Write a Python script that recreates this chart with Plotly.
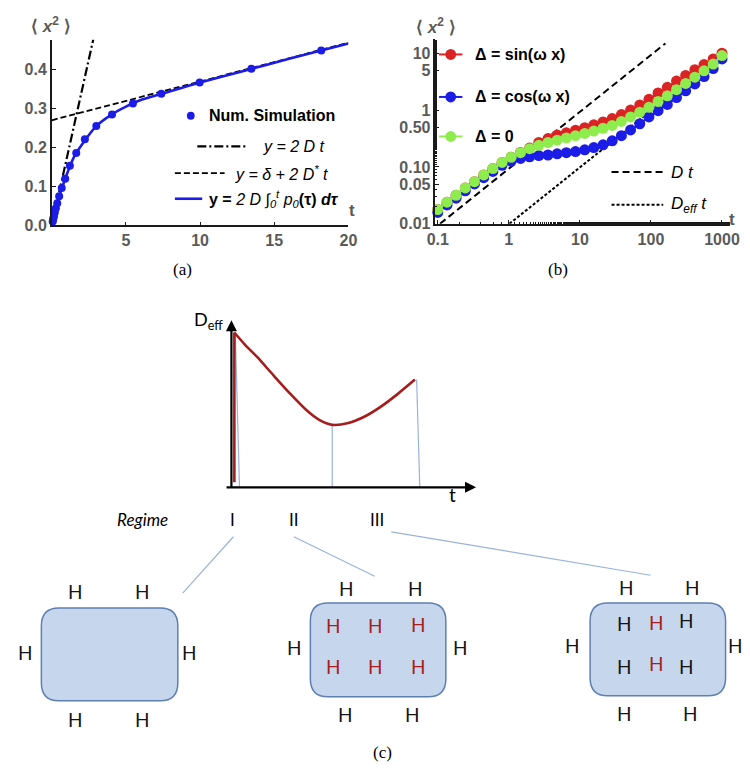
import plotly.graph_objects as go

W, H = 750, 768
def X(px): return px / W
def Y(py): return 1 - py / H

# ---------------- Panel (a) data ----------------
sim_t = [0.061, 0.082, 0.111, 0.150, 0.202, 0.273, 0.368, 0.497, 0.670, 0.905,
         1.22, 1.65, 2.23, 3.00, 4.06, 5.47, 7.39, 9.97, 13.46, 18.17]
sim_y = [0.010, 0.014, 0.019, 0.025, 0.033, 0.044, 0.057, 0.075, 0.096, 0.120,
         0.153, 0.186, 0.221, 0.255, 0.285, 0.313, 0.338, 0.367, 0.402, 0.449]
theory_t = [0, 0.05, 0.15, 0.3, 0.5, 0.75, 1.0, 1.5, 2.0, 3.0, 4.0, 5.0, 6.0, 7.5, 10, 13, 16, 20]
theory_y = [0, 0.009, 0.025, 0.046, 0.075, 0.103, 0.130, 0.176, 0.206, 0.255, 0.284, 0.305,
            0.322, 0.339, 0.367, 0.397, 0.428, 0.467]
short_t = [0, 2.8]          # y = 2 D t
short_y = [0, 0.478]
long_t = [0, 20]            # y = delta + 2 D* t
long_y = [0.270, 0.469]
a_xticks = [5, 10, 15, 20]
a_yticks = [0.0, 0.1, 0.2, 0.3, 0.4]

# ---------------- Panel (b) data ----------------
b_t = [0.100, 0.135, 0.181, 0.244, 0.329, 0.443, 0.596, 0.803, 1.08, 1.46, 1.96, 2.64,
       3.56, 4.79, 6.45, 8.68, 11.7, 15.7, 21.2, 28.5, 38.4, 51.7, 69.6, 93.7, 126, 170,
       229, 308, 415, 559, 752, 1000]
sin_y = [0.0178, 0.0240, 0.0316, 0.0427, 0.0550, 0.0724, 0.0933, 0.120, 0.148, 0.180, 0.215,
         0.269, 0.316, 0.363, 0.398, 0.442, 0.490, 0.550, 0.617, 0.708, 0.832, 1.00, 1.23,
         1.55, 2.00, 2.51, 3.24, 4.07, 5.13, 6.31, 7.94, 10.0]
cos_y = [0.0158, 0.0214, 0.0282, 0.0380, 0.0501, 0.0646, 0.0832, 0.107, 0.126, 0.141, 0.151,
         0.158, 0.162, 0.170, 0.178, 0.186, 0.200, 0.219, 0.245, 0.288, 0.355, 0.447, 0.575,
         0.759, 0.977, 1.26, 1.66, 2.19, 2.88, 3.89, 5.37, 7.94]
zero_y = [0.0178, 0.0240, 0.0316, 0.0427, 0.0550, 0.0724, 0.0933, 0.120, 0.148, 0.178, 0.209,
          0.240, 0.269, 0.295, 0.324, 0.355, 0.389, 0.427, 0.479, 0.537, 0.631, 0.759, 0.912,
          1.12, 1.41, 1.78, 2.29, 2.95, 3.80, 4.90, 6.46, 9.12]
dt_t = [0.1075, 160]
dt_y = [0.01, 14.9]
deff_t = [1.02, 1000]
deff_y = [0.01, 9.8]
b_xticks = [0.1, 1, 10, 100, 1000]
b_xtext = ["0.1", "1", "10", "100", "1000"]
b_yticks = [0.01, 0.05, 0.1, 0.5, 1, 5, 10]
b_ytext = ["0.01", "0.05", "0.10", "0.50", "1", "5", "10"]

# ---------------- Panel (c) schematic data ----------------
rise_t = [0.12, 0.12]
rise_v = [0.03, 0.927]
deff_curve_t = [0.12, 0.53, 1.06, 1.72, 2.39, 3.06, 3.59, 4.12, 4.78, 5.45, 6.11, 6.79, 7.50]
deff_curve_v = [0.927, 0.858, 0.779, 0.670, 0.562, 0.463, 0.404, 0.374, 0.385, 0.424,
                0.483, 0.558, 0.645]
bound_t_top = [0.16, 4.12, 7.57]
bound_t_bot = [0.33, 4.12, 7.70]
bound_v_top = [0.917, 0.374, 0.645]
regimes = ["I", "II", "III"]

BLUE = "#1c1ce8"
RED = "#dc2323"
GREEN = "#8eec4c"
DARKRED = "#a51c1c"
LIGHTBLUE = "#9ab3da"
GRAY = "#5a5a5a"
SANS = "Liberation Sans, Arial, sans-serif"
CAL = "Lato, Open Sans, sans-serif"

fig = go.Figure()

# Panel (a) traces
fig.add_trace(go.Scatter(x=short_t, y=short_y, mode="lines", xaxis="x", yaxis="y",
                         line=dict(color="black", width=2.2, dash="9px,3px,2px,3px")))
fig.add_trace(go.Scatter(x=long_t, y=long_y, mode="lines", xaxis="x", yaxis="y",
                         line=dict(color="black", width=1.8, dash="6px,3px")))
fig.add_trace(go.Scatter(x=theory_t, y=theory_y, mode="lines", xaxis="x", yaxis="y",
                         line=dict(color=BLUE, width=2.6, shape="spline", smoothing=0.6)))
fig.add_trace(go.Scatter(x=sim_t, y=sim_y, mode="markers", xaxis="x", yaxis="y",
                         marker=dict(color=BLUE, size=8), cliponaxis=False))

# Panel (b) traces
fig.add_trace(go.Scatter(x=dt_t, y=dt_y, mode="lines", xaxis="x2", yaxis="y2",
                         line=dict(color="black", width=2, dash="7px,4px")))
fig.add_trace(go.Scatter(x=deff_t, y=deff_y, mode="lines", xaxis="x2", yaxis="y2",
                         line=dict(color="black", width=2, dash="3px,2px")))
for ys, col in [(sin_y, RED), (cos_y, BLUE), (zero_y, GREEN)]:
    fig.add_trace(go.Scatter(x=b_t, y=ys, mode="lines+markers", xaxis="x2", yaxis="y2",
                             line=dict(color=col, width=2), marker=dict(color=col, size=11),
                             cliponaxis=False))

# Panel (c) inset traces
bx, by = [], []
for t0, t1, v0 in zip(bound_t_top, bound_t_bot, bound_v_top):
    bx += [t0, t1, None]
    by += [v0, 0, None]
fig.add_trace(go.Scatter(x=bx, y=by, mode="lines", xaxis="x3", yaxis="y3",
                         line=dict(color=LIGHTBLUE, width=1.2)))
fig.add_trace(go.Scatter(x=rise_t, y=rise_v, mode="lines", xaxis="x3", yaxis="y3",
                         line=dict(color=DARKRED, width=2.6), cliponaxis=False))
fig.add_trace(go.Scatter(x=deff_curve_t, y=deff_curve_v, mode="lines", xaxis="x3", yaxis="y3",
                         line=dict(color=DARKRED, width=2.6, shape="spline", smoothing=0.7)))

tickfont = dict(family=SANS, size=16, color=GRAY, weight="bold")
axline = dict(showline=True, linecolor="#1a1a1a", linewidth=1.6, showgrid=False, zeroline=False,
              ticks="inside", ticklen=4, tickcolor="#1a1a1a", tickfont=tickfont)

fig.update_layout(
    width=W, height=H, margin=dict(l=0, r=0, t=0, b=0),
    paper_bgcolor="white", plot_bgcolor="rgba(0,0,0,0)", showlegend=False,
    xaxis=dict(domain=[X(35.7), X(340)], range=[0, 20], tickvals=a_xticks, anchor="y", **axline),
    yaxis=dict(domain=[Y(220), Y(32)], range=[0, 0.477], tickvals=a_yticks, tickformat=".1f",
               anchor="x", **axline),
    xaxis2=dict(domain=[X(429.3), X(731.7)], type="log", range=[-1.033, 3.115], tickvals=b_xticks,
                ticktext=b_xtext, anchor="y2",
                minor=dict(ticks="inside", ticklen=2, tickcolor="#1a1a1a"), **axline),
    yaxis2=dict(domain=[Y(218.3), Y(31.7)], type="log", range=[-2, 1.245], tickvals=b_yticks,
                ticktext=b_ytext, anchor="x2",
                minor=dict(ticks="inside", ticklen=2, tickcolor="#1a1a1a"), **axline),
    xaxis3=dict(domain=[X(220), X(471)], range=[0, 10], visible=False, anchor="y3"),
    yaxis3=dict(domain=[Y(485), Y(316)], range=[0, 1], visible=False, anchor="x3"),
)

ann = []
shapes = []
def text(px, py, s, size=15, color="black", family=SANS, xanchor="center", yanchor="middle"):
    ann.append(dict(x=X(px), y=Y(py), xref="paper", yref="paper", text=s, showarrow=False,
                    font=dict(size=size, color=color, family=family),
                    xanchor=xanchor, yanchor=yanchor))
def line(x0, y0, x1, y1, color="black", width=2, dash="solid"):
    shapes.append(dict(type="line", xref="paper", yref="paper", x0=X(x0), y0=Y(y0), x1=X(x1),
                       y1=Y(y1), line=dict(color=color, width=width, dash=dash)))
def dot(cx, cy, r, color):
    shapes.append(dict(type="circle", xref="paper", yref="paper", x0=X(cx - r), y0=Y(cy + r),
                       x1=X(cx + r), y1=Y(cy - r), fillcolor=color, line=dict(width=0)))

# Axis labels (a), (b)
text(35, 17, "<b>⟨ <i>x</i><sup>2</sup> ⟩</b>", 17, GRAY)
text(344, 205, "<b>t</b>", 17, GRAY)
text(430, 18, "<b>⟨ <i>x</i><sup>2</sup> ⟩</b>", 17, GRAY)
text(734, 214, "<b>t</b>", 17, GRAY)

# Legend (a)
dot(178.3, 109, 4, BLUE)
text(195, 109, "<b>Num. Simulation</b>", 16, xanchor="left")
line(185, 140, 235, 140, "black", 2.2, "9px,3px,2px,3px")
text(250, 140, "<i>y = 2 D t</i>", 16, xanchor="left")
line(162, 167, 213, 167, "black", 1.8, "6px,3px")
text(222, 167, "<i>y = δ + 2 D<sup>*</sup> t</i>", 16, xanchor="left")
line(162, 193, 190, 193, BLUE, 2.6)
text(195, 193, "<b>y =</b> <i>2 D ∫<sub>0</sub><sup>t</sup> p<sub>0</sub></i><b>(τ)</b> <b><i>dτ</i></b>",
     16, xanchor="left")

# Legend (b)
for yy, col, lab in [(47, RED, "Δ = sin(ω x)"), (90, BLUE, "Δ = cos(ω x)"), (130, GREEN, "Δ = 0")]:
    line(433, yy, 457, yy, col, 2)
    dot(445, yy, 5.5, col)
    text(468, yy, "<b>" + lab + "</b>", 16, xanchor="left")
line(610, 166, 663, 166, "black", 2, "7px,4px")
text(669, 166, "<i>D t</i>", 17, xanchor="left")
line(610, 199, 663, 199, "black", 2, "3px,2px")
text(669, 199, "<i>D<sub>eff</sub> t</i>", 17, xanchor="left")

# Panel labels
SERIF = "Liberation Serif, Times New Roman, serif"
text(170, 265, "(a)", 17, family=SERIF)
text(555, 265, "(b)", 17, family=SERIF)
text(375, 753, "(c)", 17, family=SERIF)

# Inset axes arrows
ann.append(dict(x=X(220), y=Y(316), xref="paper", yref="paper", ax=0, ay=169, axref="pixel",
                ayref="pixel", showarrow=True, arrowhead=2, arrowsize=1, arrowwidth=2.2,
                arrowcolor="black", text=""))
ann.append(dict(x=X(471), y=Y(485), xref="paper", yref="paper", ax=-251, ay=0, showarrow=True,
                arrowhead=2, arrowsize=1, arrowwidth=2.2, arrowcolor="black", text=""))
text(196, 316, "D<sub>eff</sub>", 18, family=CAL)
text(447, 492, "t", 19, family=CAL)
text(129, 518, "<i>Regime</i>", 17, family=CAL)
for px, lab in zip([221, 284, 369], regimes):
    text(px, 518, lab, 17, family=CAL)

# Connectors
line(222, 535, 170, 592, LIGHTBLUE, 1.2)
line(284, 535, 367, 575, LIGHTBLUE, 1.2)
line(384, 530, 650, 574, LIGHTBLUE, 1.2)

# Rounded boxes
def rrect(x0, y0, x1, y1, r):
    p = (f"M {X(x0+r)},{Y(y0)} L {X(x1-r)},{Y(y0)} Q {X(x1)},{Y(y0)} {X(x1)},{Y(y0+r)} "
         f"L {X(x1)},{Y(y1-r)} Q {X(x1)},{Y(y1)} {X(x1-r)},{Y(y1)} "
         f"L {X(x0+r)},{Y(y1)} Q {X(x0)},{Y(y1)} {X(x0)},{Y(y1-r)} "
         f"L {X(x0)},{Y(y0+r)} Q {X(x0)},{Y(y0)} {X(x0+r)},{Y(y0)} Z")
    shapes.append(dict(type="path", xref="paper", yref="paper", path=p,
                       fillcolor="#c6d6ec", line=dict(color="#5f7fb3", width=1.5), layer="below"))
rrect(25, 607, 165, 701, 18)
rrect(301, 602, 440, 697, 18)
rrect(588, 602, 727, 696, 18)

HB = "#151515"
HR = "#a81e1e"
h_pos = [
    (60, 590, HB), (129, 590, HB), (9, 652, HB), (177, 652, HB), (60, 720, HB), (129, 720, HB),
    (338, 587, HB), (409, 587, HB), (285, 647, HB), (455, 647, HB), (337, 715, HB), (406, 715, HB),
    (325, 625, HR), (368, 625, HR), (412, 624, HR), (325, 666, HR), (368, 666, HR), (412, 666, HR),
    (625, 586, HB), (693, 586, HB), (570, 645, HB), (737, 645, HB), (623, 714, HB), (691, 714, HB),
    (623, 623, HB), (656, 622, HR), (687, 620, HB), (623, 666, HB), (656, 663, HR), (687, 666, HB),
]
for px, py, c in h_pos:
    text(px, py, "H", 19, c, family=CAL)

fig.update_layout(annotations=ann, shapes=shapes)
fig.write_html("out.html")
